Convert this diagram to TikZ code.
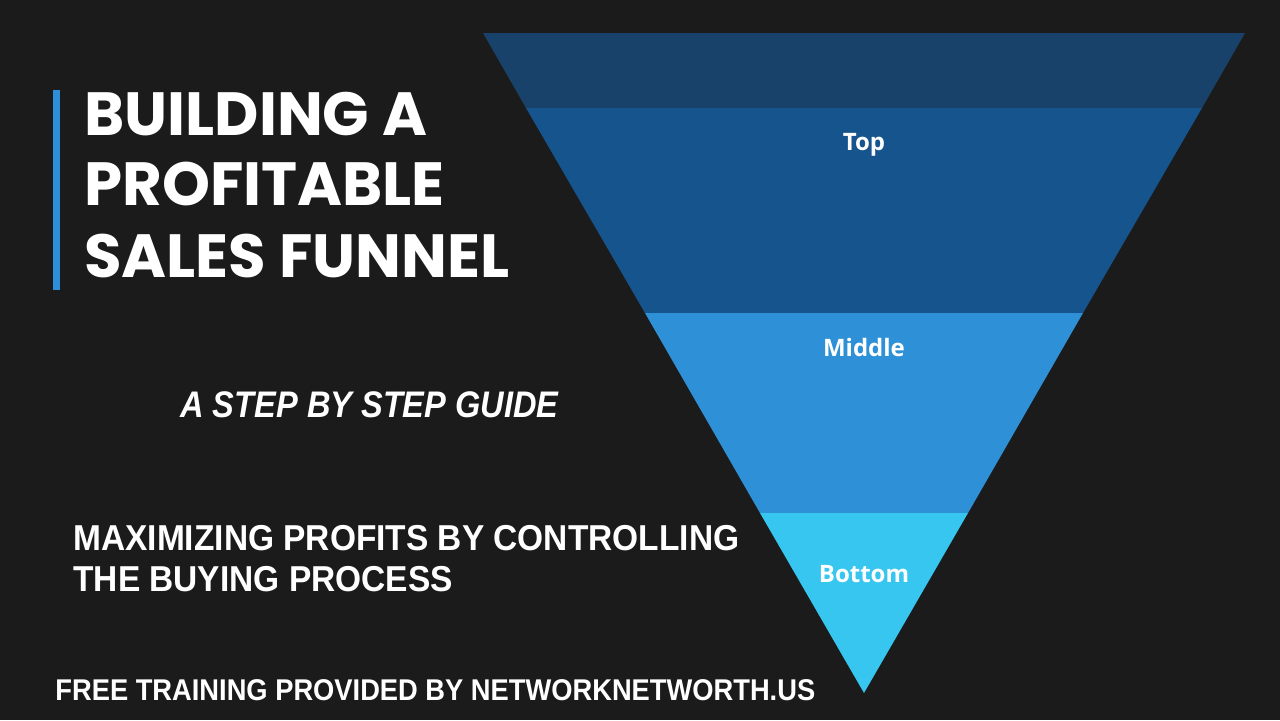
\documentclass[tikz,border=0pt]{standalone}
\usepackage{fontspec}
\usepackage{xcolor}
\usepackage{tikz}
\usetikzlibrary{
positioning,
calc
}
\setmainfont{Poppins}
\newfontfamily\guidefont[FakeStretch=0.88]{Liberation Sans}
\newfontfamily\subfont[FakeStretch=0.93]{Liberation Sans}
\newfontfamily\footfont[FakeStretch=0.91]{Liberation Sans}
\newfontfamily\labelfont{Open Sans}
\definecolor{FNLBack}{HTML}{1B1B1B}
\definecolor{FNLRim}{HTML}{18426A}
\definecolor{FNLTop}{HTML}{16548E}
\definecolor{FNLMid}{HTML}{2E90D6}
\definecolor{FNLLow}{HTML}{37C6EF}
\definecolor{FNLBar}{HTML}{2E8FD8}
\tikzset{
fnltitle/.style={anchor=base west, inner sep=0pt, text=white,
  font=\fontsize{30.5}{36}\selectfont\bfseries},
fnlguide/.style={anchor=base west, inner sep=0pt, text=white,
  font=\guidefont\fontsize{18.5}{22}\selectfont\bfseries\itshape},
fnlsub/.style={anchor=base west, inner sep=0pt, text=white,
  font=\subfont\fontsize{18}{22}\selectfont\bfseries},
fnlfoot/.style={anchor=base west, inner sep=0pt, text=white,
  font=\footfont\fontsize{15}{18}\selectfont\bfseries},
fnllabel/.style={anchor=base, inner sep=0pt, text=white,
  font=\labelfont\fontsize{12}{14}\selectfont\bfseries}
}

\begin{document}
\begin{tikzpicture}[x=0.5pt, y=-0.5pt]
\fill[FNLBack] (0,0) rectangle (1280,720);
\useasboundingbox (0,0) rectangle (1280,720);

% funnel bands
\fill[FNLRim] (483,33) -- (1245,33) -- (1202,108) -- (526,108) -- cycle;
\fill[FNLTop] (526,108) -- (1202,108) -- (1083,313) -- (645,313) -- cycle;
\fill[FNLMid] (645,313) -- (1083,313) -- (968,513) -- (760,513) -- cycle;
\fill[FNLLow] (760,513) -- (968,513) -- (864,693) -- cycle;

\node[fnllabel] (top) at (864,150) {Top};
\node[fnllabel] (middle) at (864,356) {Middle};
\node[fnllabel] (bottom) at (864,582) {Bottom};

% left column
\fill[FNLBar] (53,90) rectangle (60,290);
\node[fnltitle] (title1) at (84,135) {BUILDING A};
\node[fnltitle] (title2) at (84,205) {PROFITABLE};
\node[fnltitle] (title3) at (84,277) {SALES FUNNEL};

\node[fnlguide] (guide) at (180,417) {A STEP BY STEP GUIDE};
\node[fnlsub] (sub1) at (73,550) {MAXIMIZING PROFITS BY CONTROLLING};
\node[fnlsub] (sub2) at (73,591) {THE BUYING PROCESS};
\node[fnlfoot] (foot) at (55,700) {FREE TRAINING PROVIDED BY NETWORKNETWORTH.US};
\end{tikzpicture}
\end{document}
